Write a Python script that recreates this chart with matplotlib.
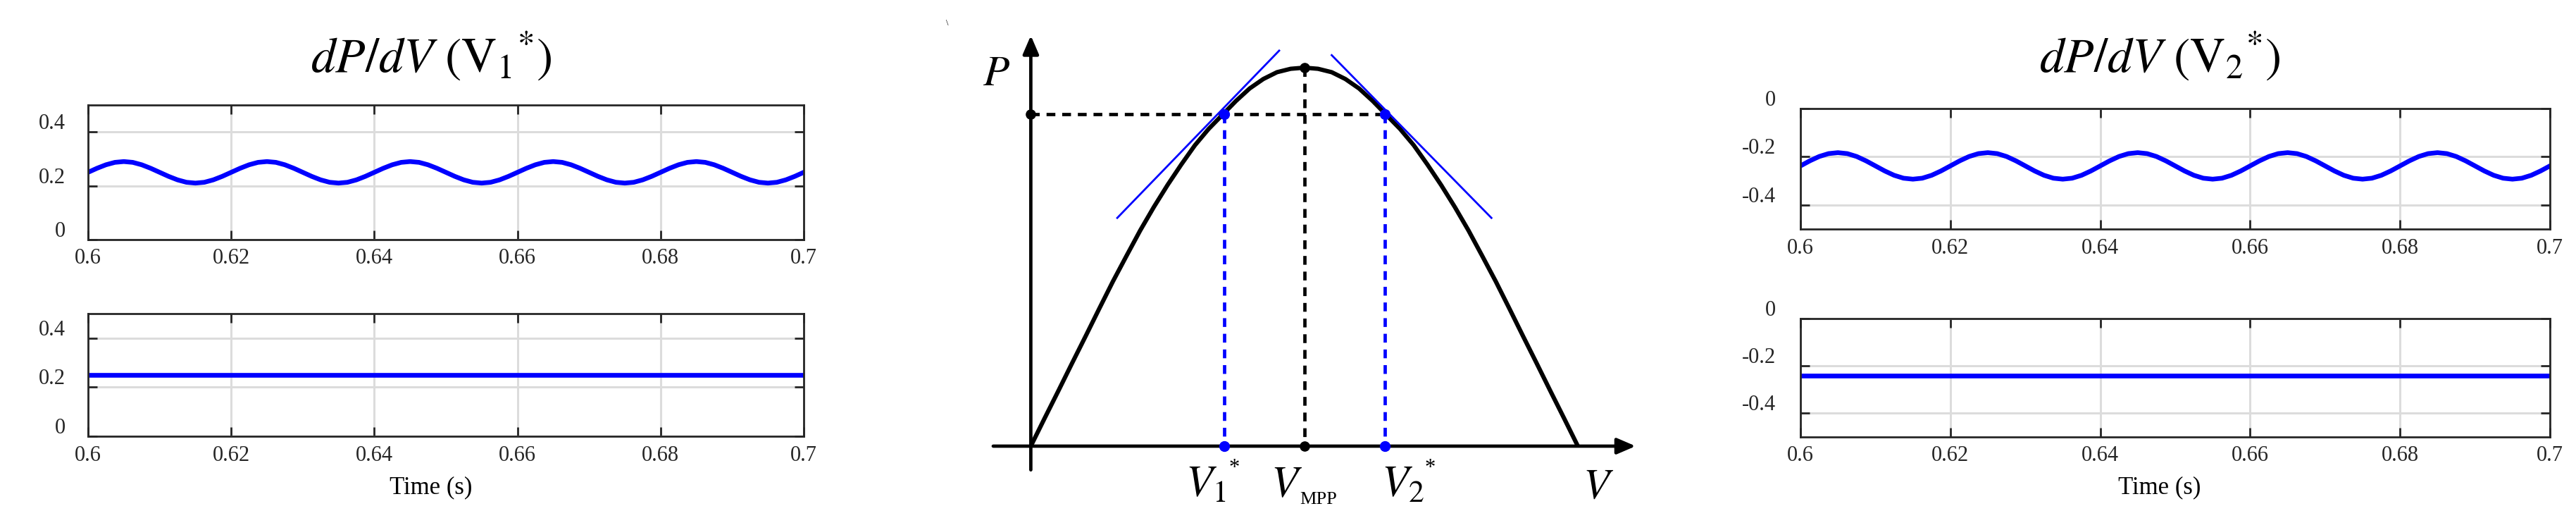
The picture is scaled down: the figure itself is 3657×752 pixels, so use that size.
import numpy as np
import matplotlib
matplotlib.use("Agg")
import matplotlib.pyplot as plt
from matplotlib.transforms import ScaledTranslation

plt.rcParams['font.family'] = ['Liberation Serif', 'DejaVu Serif']
plt.rcParams['mathtext.fontset'] = 'stix'
plt.rcParams['lines.scale_dashes'] = False

W, H, DPI = 3657, 752, 100

# ------------------------------------------------------------------ data
# sampling grid of the simulated signals (s)
t_wave = np.round(0.6 + 0.00125 * np.arange(81), 5)

# dP/dV at V1* with perturbation (top-left)
dpdv_v1_osc = [
    0.250, 0.265, 0.278, 0.287, 0.290, 0.287, 0.278, 0.265, 0.250, 0.235, 0.222, 0.213, 0.210, 0.213, 0.222, 0.235,
    0.250, 0.265, 0.278, 0.287, 0.290, 0.287, 0.278, 0.265, 0.250, 0.235, 0.222, 0.213, 0.210, 0.213, 0.222, 0.235,
    0.250, 0.265, 0.278, 0.287, 0.290, 0.287, 0.278, 0.265, 0.250, 0.235, 0.222, 0.213, 0.210, 0.213, 0.222, 0.235,
    0.250, 0.265, 0.278, 0.287, 0.290, 0.287, 0.278, 0.265, 0.250, 0.235, 0.222, 0.213, 0.210, 0.213, 0.222, 0.235,
    0.250, 0.265, 0.278, 0.287, 0.290, 0.287, 0.278, 0.265, 0.250, 0.235, 0.222, 0.213, 0.210, 0.213, 0.222, 0.235,
    0.250]

# dP/dV at V2* with perturbation (top-right)
dpdv_v2_osc = [
    -0.238, -0.217, -0.199, -0.187, -0.183, -0.187, -0.199, -0.217, -0.238, -0.259, -0.277, -0.289, -0.293, -0.289, -0.277, -0.259,
    -0.238, -0.217, -0.199, -0.187, -0.183, -0.187, -0.199, -0.217, -0.238, -0.259, -0.277, -0.289, -0.293, -0.289, -0.277, -0.259,
    -0.238, -0.217, -0.199, -0.187, -0.183, -0.187, -0.199, -0.217, -0.238, -0.259, -0.277, -0.289, -0.293, -0.289, -0.277, -0.259,
    -0.238, -0.217, -0.199, -0.187, -0.183, -0.187, -0.199, -0.217, -0.238, -0.259, -0.277, -0.289, -0.293, -0.289, -0.277, -0.259,
    -0.238, -0.217, -0.199, -0.187, -0.183, -0.187, -0.199, -0.217, -0.238, -0.259, -0.277, -0.289, -0.293, -0.289, -0.277, -0.259,
    -0.238]

# filtered dP/dV (bottom panels)
t_flat = [0.6, 0.7]
dpdv_v1_flat = [0.25, 0.25]
dpdv_v2_flat = [-0.24, -0.24]

x_ticks = [0.6, 0.62, 0.64, 0.66, 0.68, 0.7]
x_tick_labels = ['0.6', '0.62', '0.64', '0.66', '0.68', '0.7']
y_ticks_v1 = [0, 0.2, 0.4]
y_tick_labels_v1 = ['0', '0.2', '0.4']
y_ticks_v2 = [-0.4, -0.2, 0]
y_tick_labels_v2 = ['-0.4', '-0.2', '0']

# schematic P-V curve (normalised)
pv_v = [0.000, 0.025, 0.050, 0.075, 0.100, 0.125, 0.150, 0.175, 0.200, 0.225,
        0.250, 0.275, 0.300, 0.325, 0.350, 0.375, 0.400, 0.425, 0.450, 0.475,
        0.500, 0.525, 0.550, 0.575, 0.600, 0.625, 0.650, 0.675, 0.700, 0.725,
        0.750, 0.775, 0.800, 0.825, 0.850, 0.875, 0.900, 0.925, 0.950, 0.975,
        1.000]
pv_p = [0.000, 0.073, 0.145, 0.218, 0.290, 0.363, 0.435, 0.503, 0.570, 0.632,
        0.690, 0.744, 0.795, 0.838, 0.875, 0.912, 0.945, 0.970, 0.988, 0.997,
        1.000, 0.997, 0.988, 0.970, 0.945, 0.912, 0.875, 0.838, 0.795, 0.744,
        0.690, 0.632, 0.570, 0.503, 0.435, 0.363, 0.290, 0.218, 0.145, 0.073,
        0.000]
v1_star, v_mpp, v2_star = 0.353, 0.500, 0.647
p_star, p_mpp = 0.878, 1.000
tangent1_v = [0.158, 0.454]
tangent1_p = [0.603, 1.045]
tangent2_v = [0.550, 0.842]
tangent2_p = [1.033, 0.603]

# ------------------------------------------------------------------ figure
fig = plt.figure(figsize=(W / DPI, H / DPI), dpi=DPI)


def rect(x0, y0, x1, y1):
    return [x0 / W, 1 - y1 / H, (x1 - x0) / W, (y1 - y0) / H]


def fx(x):
    return x / W


def fy(y):
    return 1 - y / H


DARK = '#262626'
BLUE = '#0000ff'


def style_panel(ax, ylim, yticks, ylabels, ypad):
    ax.set_xlim(0.6, 0.7)
    ax.set_ylim(*ylim)
    ax.set_xticks(x_ticks)
    ax.set_xticklabels(x_tick_labels)
    ax.set_yticks(yticks)
    ax.set_yticklabels(ylabels)
    ax.grid(True, color='#dcdcdc', lw=2.2)
    ax.set_axisbelow(True)
    ax.tick_params(direction='in', length=9.4, width=2, color=DARK,
                   top=True, right=True, labelsize=22, labelcolor=DARK)
    ax.tick_params(axis='y', pad=ypad)
    ax.tick_params(axis='x', pad=9)
    for sp in ax.spines.values():
        sp.set_linewidth(2)
        sp.set_color(DARK)
    off = ScaledTranslation(0, 15 / DPI, fig.dpi_scale_trans)
    for lab in ax.get_yticklabels():
        lab.set_transform(lab.get_transform() + off)


LW_SIG = 4.8

# left column
ax1 = fig.add_axes(rect(125, 149, 1141, 340))
ax1.plot(t_wave, dpdv_v1_osc, color=BLUE, lw=LW_SIG)
style_panel(ax1, (0, 0.5), y_ticks_v1, y_tick_labels_v1, 23)

ax2 = fig.add_axes(rect(125, 445, 1141, 619))
ax2.plot(t_flat, dpdv_v1_flat, color=BLUE, lw=LW_SIG)
style_panel(ax2, (0, 0.5), y_ticks_v1, y_tick_labels_v1, 23)

# right column
ax3 = fig.add_axes(rect(2556, 154, 3620, 325))
ax3.plot(t_wave, dpdv_v2_osc, color=BLUE, lw=LW_SIG)
style_panel(ax3, (-0.5, 0), y_ticks_v2, y_tick_labels_v2, 25)

ax4 = fig.add_axes(rect(2556, 452, 3620, 620))
ax4.plot(t_flat, dpdv_v2_flat, color=BLUE, lw=LW_SIG)
style_panel(ax4, (-0.5, 0), y_ticks_v2, y_tick_labels_v2, 25)

# titles and x labels
fig.text(fx(612), fy(81), r'$dP/dV\ (\mathrm{V}_1{}^{*})$', fontsize=50,
         ha='center', va='center')
fig.text(fx(3066), fy(81), r'$dP/dV\ (\mathrm{V}_2{}^{*})$', fontsize=50,
         ha='center', va='center')
fig.text(fx(612), fy(692), 'Time (s)', fontsize=25, ha='center', va='center')
fig.text(fx(3066), fy(692), 'Time (s)', fontsize=25, ha='center', va='center')

# ------------------------------------------------------------------ centre schematic
X0, X1, Y0, Y1 = 1380, 2360, 20, 740
OX, OY, VS, PS = 1463.4, 633.0, 776.6, 537.0
axc = fig.add_axes(rect(X0, Y0, X1, Y1))
axc.set_xlim((X0 - OX) / VS, (X1 - OX) / VS)
axc.set_ylim((OY - Y1) / PS, (OY - Y0) / PS)
axc.axis('off')

arrow_kw = dict(arrowstyle='-|>,head_length=0.79,head_width=0.34', lw=3.4,
                color='black', shrinkA=0, shrinkB=0, mutation_scale=20)
axc.annotate('', xy=((2322 - OX) / VS, 0), xytext=((1410 - OX) / VS, 0),
             arrowprops=arrow_kw)
axc.annotate('', xy=(0, (OY - 50.4) / PS), xytext=(0, (OY - 666.7) / PS),
             arrowprops=arrow_kw)

axc.plot(pv_v, pv_p, color='black', lw=4.4, solid_joinstyle='round',
         solid_capstyle='butt', zorder=3)
axc.plot(tangent1_v, tangent1_p, color=BLUE, lw=2.0, zorder=4)
axc.plot(tangent2_v, tangent2_p, color=BLUE, lw=2.0, zorder=4)

dash = (9.0, 7.0)
axc.plot([0, v2_star], [p_star, p_star], color='black', lw=3.4,
         linestyle=(0, dash), zorder=2)
axc.plot([v_mpp, v_mpp], [p_mpp, 0], color='black', lw=3.4,
         linestyle=(0, dash), zorder=2)
axc.plot([v1_star, v1_star], [p_star, 0], color=BLUE, lw=3.4,
         linestyle=(0, dash), zorder=2)
axc.plot([v2_star, v2_star], [p_star, 0], color=BLUE, lw=3.4,
         linestyle=(0, dash), zorder=2)

axc.plot([0, v_mpp, v_mpp], [p_star, p_mpp, 0], 'o', color='black', ms=9.5, zorder=5)
axc.plot([v1_star, v2_star, v1_star, v2_star], [p_star, p_star, 0, 0], 'o',
         color=BLUE, ms=10, zorder=5)

fig.text(fx(1414), fy(106), r'$P$', fontsize=44, ha='center', va='center')
fig.text(fx(2269), fy(692), r'$V$', fontsize=44, ha='center', va='center')
fig.text(fx(1683), fy(705), r'$V_1$', fontsize=45, ha='left', va='baseline')
fig.text(fx(1745), fy(672), '*', fontsize=22, ha='left', va='baseline')
fig.text(fx(1804), fy(705), r'$V$', fontsize=45, ha='left', va='baseline')
fig.text(fx(1845), fy(715), 'MPP', fontsize=19, ha='left', va='baseline')
fig.text(fx(1961), fy(705), r'$V_2$', fontsize=45, ha='left', va='baseline')
fig.text(fx(2023), fy(672), '*', fontsize=22, ha='left', va='baseline')
fig.text(fx(1345), fy(33), '\\', fontsize=9, ha='center', va='center')

fig.savefig('out.png', dpi=DPI)
